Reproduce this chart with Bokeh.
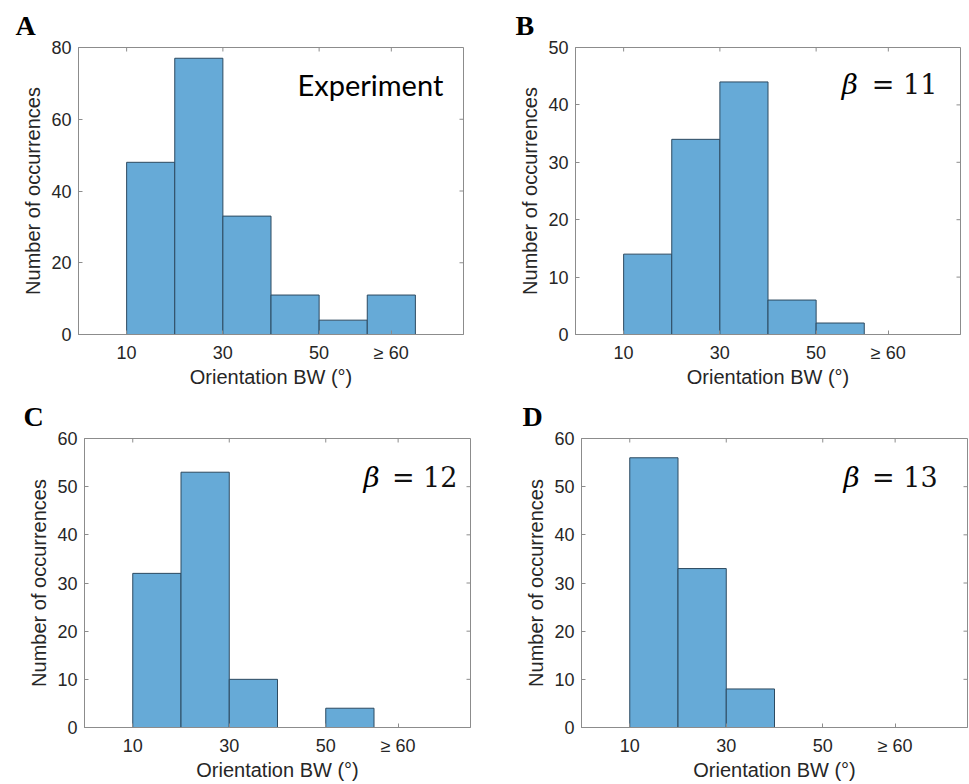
import math
from bokeh.plotting import figure
from bokeh.models import Range1d, FixedTicker, Label
from bokeh.layouts import column, row
from bokeh.embed import file_html
from bokeh.resources import INLINE

# ---- data ----
bin_left = [10, 20, 30, 40, 50, 60]
bin_width = 10
x_ticks = [10, 30, 50, 65]
x_tick_labels = {65: "\u2265 60"}

counts_A = [48, 77, 33, 11, 4, 11]
counts_B = [14, 34, 44, 6, 2, 0]
counts_C = [32, 53, 10, 0, 4, 0]
counts_D = [56, 33, 8, 0, 0, 0]

ymax = {"A": 80, "B": 50, "C": 60, "D": 60}
ystep = {"A": 20, "B": 10, "C": 10, "D": 10}
notes = {"A": "Experiment", "B": "11", "C": "12", "D": "13"}

FILL = "#66aad7"
EDGE = "#2d4a60"
AXC = "#8c8c8c"
TXT = "#262626"
XMAX = 80


def panel(letter, counts, width, height, bl, br, bt, bb, title_off, note_x):
    p = figure(width=width, height=height, output_backend="svg", toolbar_location=None,
               x_range=Range1d(0, XMAX), y_range=Range1d(0, ymax[letter]),
               min_border_left=bl, min_border_right=br, min_border_top=bt, min_border_bottom=bb)
    p.title.text = letter
    p.title.text_font = "Liberation Serif"
    p.title.text_font_style = "bold"
    p.title.text_font_size = "28px"
    p.title.text_color = "black"
    p.title.offset = title_off
    p.title.standoff = 14
    p.grid.visible = False
    p.outline_line_color = AXC
    p.outline_line_width = 1
    p.background_fill_color = "white"

    lefts = [l for l, c in zip(bin_left, counts) if c > 0]
    tops = [c for c in counts if c > 0]
    rights = [l + bin_width for l in lefts]
    p.quad(left=lefts, right=rights, bottom=0, top=tops,
           fill_color=FILL, line_color=EDGE, line_width=1)

    yt = list(range(0, ymax[letter] + 1, ystep[letter]))
    xa = p.xaxis[0]
    xa.ticker = FixedTicker(ticks=x_ticks)
    xa.major_label_overrides = x_tick_labels
    ya = p.yaxis[0]
    ya.ticker = FixedTicker(ticks=yt)
    for ax in (xa, ya):
        ax.axis_line_color = AXC
        ax.major_tick_line_color = AXC
        ax.major_tick_in = 4
        ax.major_tick_out = 0
        ax.minor_tick_line_color = None
        ax.major_label_text_font = "Liberation Sans"
        ax.major_label_text_font_size = "18px"
        ax.major_label_text_color = TXT
        ax.axis_label_text_font = "Liberation Sans"
        ax.axis_label_text_font_size = "20px"
        ax.axis_label_text_font_style = "normal"
        ax.axis_label_text_color = TXT
    xa.axis_label = "Orientation BW (\u00b0)"
    xa.major_label_standoff = 8
    xa.axis_label_standoff = 0
    ya.axis_label = "Number of occurrences"
    ya.major_label_standoff = 7
    ya.axis_label_standoff = 4

    # mirrored inward ticks on top and right edges (box on)
    p.ray(x=x_ticks, y=[ymax[letter]] * len(x_ticks), length=4, length_units="screen",
          angle=-math.pi / 2, line_color=AXC, line_width=1)
    p.ray(x=[XMAX] * len(yt), y=yt, length=4, length_units="screen",
          angle=math.pi, line_color=AXC, line_width=1)

    ytxt = ymax[letter] * note_x[2]
    if letter == "A":
        p.add_layout(Label(x=note_x[1], y=ytxt, text=notes[letter], text_align="right",
                           text_baseline="middle", text_font="Lato", text_font_size="29px",
                           text_color="black"))
    else:
        p.add_layout(Label(x=note_x[0], y=ytxt, text="\u03b2", text_align="left",
                           text_baseline="middle", text_font="DejaVu Serif", text_font_style="italic",
                           text_font_size="28px", text_color="black"))
        p.add_layout(Label(x=note_x[1], y=ytxt, text="= " + notes[letter], text_align="right",
                           text_baseline="middle", text_font="DejaVu Serif",
                           text_font_size="27px", text_color="#111111"))
    return p


pA = panel("A", counts_A, 480, 390, 78, 17, 46, 56, -63, (0, 75.8, 0.872))
pB = panel("B", counts_B, 489, 390, 95, 9, 46, 56, -60, (55.3, 75.2, 0.87))
pC = panel("C", counts_C, 480, 394, 84, 10, 48, 57, -61, (57.8, 77.3, 0.865))
pD = panel("D", counts_D, 489, 394, 101, 2, 48, 57, -59, (54.3, 73.8, 0.865))

layout = column(row(pA, pB), row(pC, pD))
open("out.html", "w").write(file_html(layout, INLINE))
